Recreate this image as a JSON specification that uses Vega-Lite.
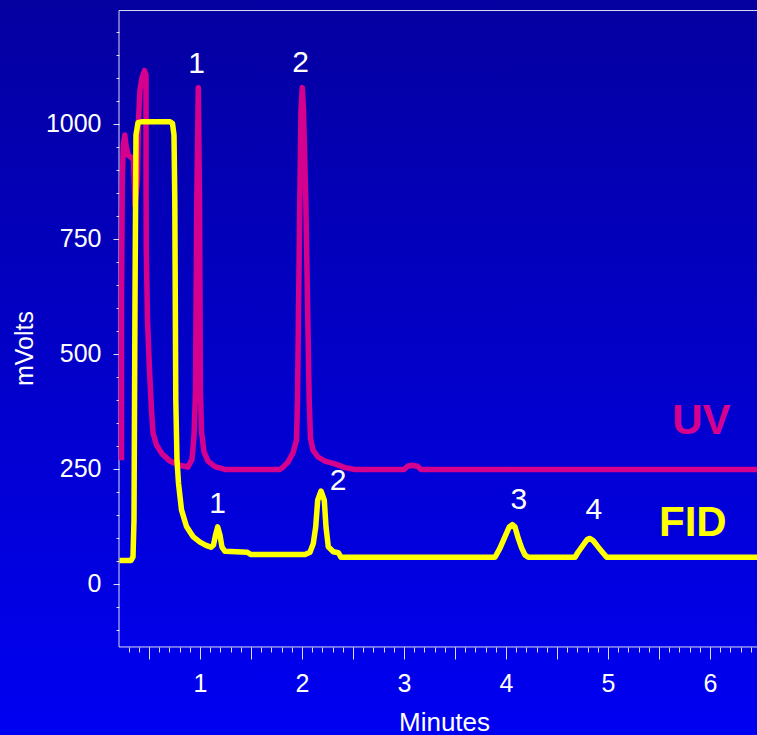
{
  "$schema": "https://vega.github.io/schema/vega-lite/v6.json",
  "width": 757,
  "height": 735,
  "autosize": {"type": "none"},
  "padding": 0,
  "background": "#0300c8",
  "view": {
    "stroke": null,
    "fill": {
      "gradient": "linear",
      "x1": 0, "y1": 0, "x2": 0, "y2": 1,
      "stops": [
        {"offset": 0, "color": "#0500a0"},
        {"offset": 1, "color": "#0000f2"}
      ]
    }
  },
  "config": {
    "axis": {
      "domain": false,
      "grid": false,
      "tickColor": "#dcdcf0",
      "tickWidth": 1,
      "labelColor": "#ffffff",
      "titleColor": "#ffffff",
      "labelFont": "Liberation Sans",
      "titleFont": "Liberation Sans",
      "titleFontWeight": "normal",
      "labelFontSize": 25,
      "labelOverlap": false,
      "labelFlush": false
    }
  },
  "datasets": {
    "frame": [
      {"t": 0.2059, "t2": 0.2059, "mv": -138.0, "mv2": 1245.6},
      {"t": 0.2059, "t2": 6.4608, "mv": 1245.6, "mv2": 1245.6},
      {"t": 0.2059, "t2": 6.4608, "mv": -138.0, "mv2": -138.0}
    ],
    "uv": [
      {"detector": "UV", "t": 0.2304, "mv": 268},
      {"detector": "UV", "t": 0.2304, "mv": 616},
      {"detector": "UV", "t": 0.2382, "mv": 877},
      {"detector": "UV", "t": 0.2480, "mv": 953},
      {"detector": "UV", "t": 0.2627, "mv": 975},
      {"detector": "UV", "t": 0.2745, "mv": 953},
      {"detector": "UV", "t": 0.2941, "mv": 931},
      {"detector": "UV", "t": 0.3235, "mv": 927},
      {"detector": "UV", "t": 0.3480, "mv": 921},
      {"detector": "UV", "t": 0.3627, "mv": 823},
      {"detector": "UV", "t": 0.3873, "mv": 877},
      {"detector": "UV", "t": 0.3971, "mv": 1008},
      {"detector": "UV", "t": 0.4118, "mv": 1073},
      {"detector": "UV", "t": 0.4314, "mv": 1099},
      {"detector": "UV", "t": 0.4559, "mv": 1115},
      {"detector": "UV", "t": 0.4706, "mv": 1105},
      {"detector": "UV", "t": 0.4716, "mv": 834},
      {"detector": "UV", "t": 0.4735, "mv": 725},
      {"detector": "UV", "t": 0.4853, "mv": 573},
      {"detector": "UV", "t": 0.5049, "mv": 464},
      {"detector": "UV", "t": 0.5245, "mv": 377},
      {"detector": "UV", "t": 0.5392, "mv": 327},
      {"detector": "UV", "t": 0.5735, "mv": 301},
      {"detector": "UV", "t": 0.6275, "mv": 282},
      {"detector": "UV", "t": 0.7059, "mv": 266},
      {"detector": "UV", "t": 0.8039, "mv": 257},
      {"detector": "UV", "t": 0.8824, "mv": 253},
      {"detector": "UV", "t": 0.9216, "mv": 270},
      {"detector": "UV", "t": 0.9412, "mv": 320},
      {"detector": "UV", "t": 0.9559, "mv": 420},
      {"detector": "UV", "t": 0.9686, "mv": 834},
      {"detector": "UV", "t": 0.9833, "mv": 1078},
      {"detector": "UV", "t": 0.9951, "mv": 834},
      {"detector": "UV", "t": 1.0039, "mv": 420},
      {"detector": "UV", "t": 1.0147, "mv": 330},
      {"detector": "UV", "t": 1.0392, "mv": 286},
      {"detector": "UV", "t": 1.0784, "mv": 266},
      {"detector": "UV", "t": 1.1471, "mv": 254},
      {"detector": "UV", "t": 1.2451, "mv": 248},
      {"detector": "UV", "t": 1.7843, "mv": 248},
      {"detector": "UV", "t": 1.8137, "mv": 253},
      {"detector": "UV", "t": 1.8627, "mv": 264},
      {"detector": "UV", "t": 1.9118, "mv": 284},
      {"detector": "UV", "t": 1.9461, "mv": 312},
      {"detector": "UV", "t": 1.9559, "mv": 399},
      {"detector": "UV", "t": 1.9784, "mv": 834},
      {"detector": "UV", "t": 1.9902, "mv": 1029},
      {"detector": "UV", "t": 2.0029, "mv": 1078},
      {"detector": "UV", "t": 2.0147, "mv": 1029},
      {"detector": "UV", "t": 2.0373, "mv": 834},
      {"detector": "UV", "t": 2.0706, "mv": 399},
      {"detector": "UV", "t": 2.0833, "mv": 316},
      {"detector": "UV", "t": 2.1078, "mv": 290},
      {"detector": "UV", "t": 2.1569, "mv": 275},
      {"detector": "UV", "t": 2.2255, "mv": 266},
      {"detector": "UV", "t": 2.3235, "mv": 260},
      {"detector": "UV", "t": 2.4216, "mv": 252},
      {"detector": "UV", "t": 2.5196, "mv": 248},
      {"detector": "UV", "t": 3.0000, "mv": 248},
      {"detector": "UV", "t": 3.0343, "mv": 255},
      {"detector": "UV", "t": 3.0784, "mv": 257},
      {"detector": "UV", "t": 3.1324, "mv": 255},
      {"detector": "UV", "t": 3.1667, "mv": 248},
      {"detector": "UV", "t": 6.4608, "mv": 248}
    ],
    "fid": [
      {"detector": "FID", "t": 0.2108, "mv": 50},
      {"detector": "FID", "t": 0.3235, "mv": 50},
      {"detector": "FID", "t": 0.3431, "mv": 58},
      {"detector": "FID", "t": 0.3529, "mv": 138},
      {"detector": "FID", "t": 0.3627, "mv": 616},
      {"detector": "FID", "t": 0.3725, "mv": 975},
      {"detector": "FID", "t": 0.3922, "mv": 1002},
      {"detector": "FID", "t": 0.4314, "mv": 1004},
      {"detector": "FID", "t": 0.7059, "mv": 1004},
      {"detector": "FID", "t": 0.7304, "mv": 1000},
      {"detector": "FID", "t": 0.7451, "mv": 975},
      {"detector": "FID", "t": 0.7529, "mv": 834},
      {"detector": "FID", "t": 0.7627, "mv": 399},
      {"detector": "FID", "t": 0.7745, "mv": 268},
      {"detector": "FID", "t": 0.7892, "mv": 218},
      {"detector": "FID", "t": 0.8186, "mv": 160},
      {"detector": "FID", "t": 0.8676, "mv": 124},
      {"detector": "FID", "t": 0.9314, "mv": 102},
      {"detector": "FID", "t": 1.0000, "mv": 90},
      {"detector": "FID", "t": 1.0588, "mv": 83},
      {"detector": "FID", "t": 1.1078, "mv": 79},
      {"detector": "FID", "t": 1.1324, "mv": 84},
      {"detector": "FID", "t": 1.1520, "mv": 105},
      {"detector": "FID", "t": 1.1735, "mv": 123},
      {"detector": "FID", "t": 1.1961, "mv": 105},
      {"detector": "FID", "t": 1.2157, "mv": 79},
      {"detector": "FID", "t": 1.2451, "mv": 70},
      {"detector": "FID", "t": 1.4608, "mv": 68},
      {"detector": "FID", "t": 1.5000, "mv": 63},
      {"detector": "FID", "t": 2.0294, "mv": 63},
      {"detector": "FID", "t": 2.0784, "mv": 68},
      {"detector": "FID", "t": 2.1108, "mv": 87},
      {"detector": "FID", "t": 2.1343, "mv": 123},
      {"detector": "FID", "t": 2.1539, "mv": 181},
      {"detector": "FID", "t": 2.1863, "mv": 201},
      {"detector": "FID", "t": 2.2186, "mv": 181},
      {"detector": "FID", "t": 2.2353, "mv": 123},
      {"detector": "FID", "t": 2.2578, "mv": 80},
      {"detector": "FID", "t": 2.3069, "mv": 69},
      {"detector": "FID", "t": 2.3559, "mv": 67},
      {"detector": "FID", "t": 2.3824, "mv": 57},
      {"detector": "FID", "t": 3.8922, "mv": 57},
      {"detector": "FID", "t": 3.9412, "mv": 77},
      {"detector": "FID", "t": 3.9902, "mv": 102},
      {"detector": "FID", "t": 4.0324, "mv": 123},
      {"detector": "FID", "t": 4.0618, "mv": 128},
      {"detector": "FID", "t": 4.0882, "mv": 123},
      {"detector": "FID", "t": 4.1206, "mv": 98},
      {"detector": "FID", "t": 4.1539, "mv": 77},
      {"detector": "FID", "t": 4.1863, "mv": 62},
      {"detector": "FID", "t": 4.2186, "mv": 57},
      {"detector": "FID", "t": 4.6765, "mv": 57},
      {"detector": "FID", "t": 4.7088, "mv": 69},
      {"detector": "FID", "t": 4.7578, "mv": 84},
      {"detector": "FID", "t": 4.7971, "mv": 96},
      {"detector": "FID", "t": 4.8235, "mv": 98},
      {"detector": "FID", "t": 4.8559, "mv": 93},
      {"detector": "FID", "t": 4.9049, "mv": 79},
      {"detector": "FID", "t": 4.9539, "mv": 66},
      {"detector": "FID", "t": 4.9873, "mv": 57},
      {"detector": "FID", "t": 6.4608, "mv": 57}
    ],
    "peaks": [
      {"t": 0.9676, "mv": 1110, "label": "1"},
      {"t": 1.9853, "mv": 1112, "label": "2"},
      {"t": 1.1725, "mv": 153, "label": "1"},
      {"t": 2.3529, "mv": 203, "label": "2"},
      {"t": 4.1255, "mv": 163, "label": "3"},
      {"t": 4.8608, "mv": 140, "label": "4"}
    ],
    "detectors": [
      {"detector": "UV", "t": 5.9147, "mv": 324},
      {"detector": "FID", "t": 5.8314, "mv": 104}
    ]
  },
  "resolve": {"axis": {"x": "independent", "y": "independent"}},
  "layer": [
    {
      "data": {"name": "frame"},
      "mark": {"type": "rule", "color": "#dcdcf0", "strokeWidth": 1},
      "encoding": {
        "x": {
          "field": "t", "type": "quantitative",
          "scale": {"domain": [-0.9608, 6.4608], "nice": false, "zero": false},
          "axis": {
            "orient": "bottom", "offset": -88,
            "values": [1, 2, 3, 4, 5, 6],
            "format": "d",
            "tickSize": 12, "labelPadding": 12,
            "title": "Minutes", "titleFontSize": 26,
            "titleX": 444, "titleY": 83, "titleBaseline": "alphabetic", "titleAlign": "center"
          }
        },
        "x2": {"field": "t2"},
        "y": {
          "field": "mv", "type": "quantitative",
          "scale": {"domain": [-329.35, 1268.5], "nice": false, "zero": false},
          "axis": {
            "orient": "left", "offset": -119,
            "values": [0, 250, 500, 750, 1000],
            "format": "d",
            "labelExpr": "datum.value === 0 ? '0\u00a0' : datum.label",
            "tickSize": 6, "labelPadding": 12,
            "title": "mVolts", "titleFontSize": 25, "titleAngle": 270,
            "titleX": -87, "titleY": 348, "titleBaseline": "alphabetic", "titleAlign": "center"
          }
        },
        "y2": {"field": "mv2"}
      }
    },
    {
      "data": {"name": "uv"},
      "mark": {"type": "line", "strokeWidth": 5.5, "strokeJoin": "round"},
      "encoding": {
        "x": {
          "field": "t", "type": "quantitative",
          "scale": {"domain": [-0.9608, 6.4608], "nice": false, "zero": false},
          "axis": {
            "orient": "bottom", "offset": -88,
            "values": [0.3,0.4,0.5,0.6,0.7,0.8,0.9,1,1.1,1.2,1.3,1.4,1.5,1.6,1.7,1.8,1.9,2,2.1,2.2,2.3,2.4,2.5,2.6,2.7,2.8,2.9,3,3.1,3.2,3.3,3.4,3.5,3.6,3.7,3.8,3.9,4,4.1,4.2,4.3,4.4,4.5,4.6,4.7,4.8,4.9,5,5.1,5.2,5.3,5.4,5.5,5.6,5.7,5.8,5.9,6,6.1,6.2,6.3,6.4],
            "tickSize": 5, "labels": false, "title": null
          }
        },
        "y": {
          "field": "mv", "type": "quantitative",
          "scale": {"domain": [-329.35, 1268.5], "nice": false, "zero": false},
          "axis": {
            "orient": "left", "offset": -119,
            "values": [-100,-50,0,50,100,150,200,250,300,350,400,450,500,550,600,650,700,750,800,850,900,950,1000,1050,1100,1150,1200],
            "tickSize": 3, "labels": false, "title": null
          }
        },
        "color": {
          "field": "detector", "type": "nominal",
          "scale": {"domain": ["UV", "FID"], "range": ["#d6008f", "#ffff00"]},
          "legend": null
        }
      }
    },
    {
      "data": {"name": "fid"},
      "mark": {"type": "line", "strokeWidth": 5.5, "strokeJoin": "round"},
      "encoding": {
        "x": {
          "field": "t", "type": "quantitative",
          "scale": {"domain": [-0.9608, 6.4608], "nice": false, "zero": false},
          "axis": {
            "orient": "bottom", "offset": -88,
            "values": [0.5, 1.5, 2.5, 3.5, 4.5, 5.5],
            "tickSize": 12, "labels": false, "title": null
          }
        },
        "y": {"field": "mv", "type": "quantitative", "scale": {"domain": [-329.35, 1268.5], "nice": false, "zero": false}, "axis": null},
        "color": {
          "field": "detector", "type": "nominal",
          "scale": {"domain": ["UV", "FID"], "range": ["#d6008f", "#ffff00"]},
          "legend": null
        }
      }
    },
    {
      "data": {"name": "peaks"},
      "mark": {"type": "text", "color": "#ffffff", "font": "Liberation Sans", "fontSize": 30, "align": "center", "baseline": "alphabetic"},
      "encoding": {
        "x": {"field": "t", "type": "quantitative", "scale": {"domain": [-0.9608, 6.4608], "nice": false, "zero": false}, "axis": null},
        "y": {"field": "mv", "type": "quantitative", "scale": {"domain": [-329.35, 1268.5], "nice": false, "zero": false}, "axis": null},
        "text": {"field": "label"}
      }
    },
    {
      "data": {"name": "detectors"},
      "mark": {"type": "text", "font": "Liberation Sans", "fontSize": 42, "fontWeight": "bold", "align": "center", "baseline": "alphabetic"},
      "encoding": {
        "x": {"field": "t", "type": "quantitative", "scale": {"domain": [-0.9608, 6.4608], "nice": false, "zero": false}, "axis": null},
        "y": {"field": "mv", "type": "quantitative", "scale": {"domain": [-329.35, 1268.5], "nice": false, "zero": false}, "axis": null},
        "text": {"field": "detector"},
        "color": {
          "field": "detector", "type": "nominal",
          "scale": {"domain": ["UV", "FID"], "range": ["#d6008f", "#ffff00"]},
          "legend": null
        }
      }
    }
  ]
}
